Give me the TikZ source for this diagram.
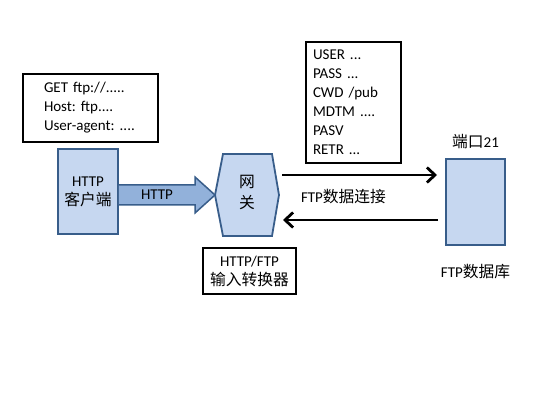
\documentclass[tikz,border=0pt]{standalone}
\usepackage{fontspec}
\setmainfont{Carlito}[WordSpace=0.75]
\newfontfamily\cjk{Noto Sans CJK SC}[Scale=1.05]
\usetikzlibrary{arrows.meta}
\definecolor{boxfill}{RGB}{198,215,240}
\definecolor{boxline}{RGB}{56,93,138}
\definecolor{arrowfill}{RGB}{146,177,218}
\frenchspacing

\begin{document}
\begin{tikzpicture}[x=1pt,y=-1pt,
    every node/.style={font=\fontsize{15}{19}\selectfont},
    txtbox/.style={draw=black,line width=1.8pt,fill=white,inner sep=0pt},
    bluebox/.style={draw=boxline,line width=1.8pt,fill=boxfill,align=center},
    ftparrow/.style={line width=2.8pt,-{Straight Barb[length=8pt,width=15pt]}}]

    \useasboundingbox (0,0) rectangle (550,401);

    % HTTP side
    \node[txtbox, minimum width=135pt, minimum height=68pt, text width=93pt, align=left] (req) at (90.5,108)
        {GET ftp://.....\\Host: ftp....\\User-agent: ....};
    \node[bluebox, minimum width=60pt, minimum height=85pt] (client) at (88,191.5) {HTTP\\{\cjk 客户端}};

    % gateway
    \coordinate (gwc) at (247,195);
    \draw[boxline, fill=boxfill, line width=1.8pt, line join=miter] ([xshift=-32pt]gwc) coordinate (gwL)
        -- ++(8,-41) -- ++(49,0) -- ++(7,41) -- ++(-7,41) -- ++(-49,0) -- cycle;
    \node[align=center, inner sep=0pt] (gw) at (247,192) {{\cjk 网}\\[2pt]{\cjk 关}};
    \node[txtbox, minimum width=93pt, minimum height=46pt, align=center] (conv) at (249.5,271)
        {HTTP/FTP\\{\cjk 输入转换器}};

    % block arrow client -> gateway
    \fill[arrowfill] (client.east |- 0,185) -- (195,185) -- (195,177) -- (gwL) -- (195,213) -- (195,205) -- (client.east |- 0,205) -- cycle;
    \draw[boxline, line width=1.5pt, line join=miter] (client.east |- 0,185) -- (195,185) -- (195,177) -- (gwL) -- (195,213) -- (195,205) -- (client.east |- 0,205);
    \node (httplbl) at (157,195) {HTTP};

    % FTP side
    \node[txtbox, minimum width=95pt, minimum height=121pt, text width=81pt, align=left] (cmds) at (353.5,102.5)
        {USER ...\\PASS ...\\CWD /pub\\MDTM ....\\PASV\\RETR ...};
    \node[bluebox, minimum width=59pt, minimum height=86pt] (db) at (475.5,202) {};
    \node (port) at (475.5,142) {{\cjk 端口}21};
    \node (dbname) at (475.5,272) {FTP{\cjk 数据库}};

    \coordinate (gwOut) at (282,175);
    \coordinate (dbIn) at (437,175);
    \coordinate (dbOut) at (438,220);
    \coordinate (gwIn) at (283,220);
    \draw[ftparrow] (gwOut) -- (dbIn);
    \draw[ftparrow] (dbOut) -- (gwIn);
    \node (ftpconn) at (343.5,197) {FTP{\cjk 数据连接}};

\end{tikzpicture}
\end{document}
